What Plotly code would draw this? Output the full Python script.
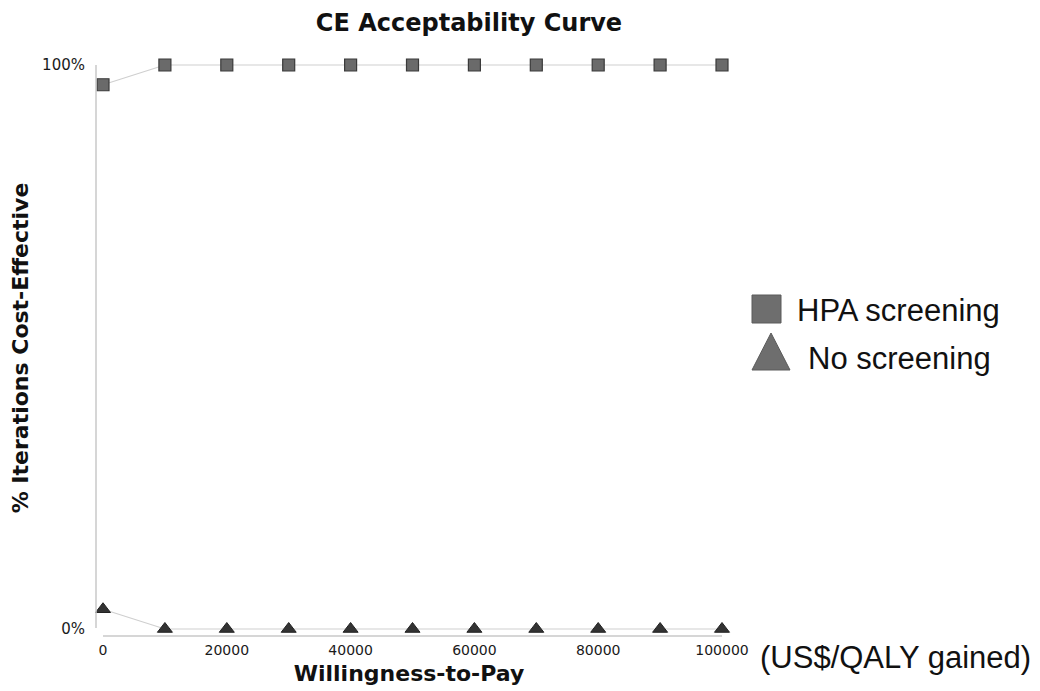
import plotly.graph_objects as go

wtp = [0, 10000, 20000, 30000, 40000, 50000, 60000, 70000, 80000, 90000, 100000]
hpa_screening = [96.5, 100, 100, 100, 100, 100, 100, 100, 100, 100, 100]
no_screening = [3.5, 0, 0, 0, 0, 0, 0, 0, 0, 0, 0]
x_ticks = [0, 20000, 40000, 60000, 80000, 100000]
x_tick_labels = ["0", "20000", "40000", "60000", "80000", "100000"]
y_ticks = [0, 100]
y_tick_labels = ["0%", "100%"]

# page body has an 8px margin; work in screenshot pixels and subtract it
OFF = 8
W, H = 1040 - OFF, 691 - OFF
L, R, T, B = 96 - OFF, 722 - OFF, 60 - OFF, 636 - OFF

def px(x):
    return (x - OFF - L) / (R - L)

def py(y):
    return (B - (y - OFF)) / (B - T)

fig = go.Figure()
fig.add_trace(go.Scatter(
    x=wtp, y=hpa_screening, mode="lines+markers", name="HPA screening",
    line=dict(color="#cfcfcf", width=1.2),
    marker=dict(symbol="square", size=12, color="#6a6a6a", line=dict(color="#3a3a3a", width=1.2)),
    cliponaxis=False,
))
fig.add_trace(go.Scatter(
    x=wtp, y=no_screening, mode="lines+markers", name="No screening",
    line=dict(color="#cfcfcf", width=1.2),
    marker=dict(symbol="triangle-up", size=13, color="#333333", line=dict(color="#222222", width=1)),
    cliponaxis=False,
))

shapes = [
    dict(type="line", xref="paper", yref="paper", x0=0, x1=0, y0=py(628), y1=py(65),
         line=dict(color="#c8c8c8", width=1.5)),
    dict(type="line", xref="x", yref="paper", x0=0, x1=100000, y0=0, y1=0,
         line=dict(color="#c8c8c8", width=1.5)),
    dict(type="rect", xref="paper", yref="paper", x0=px(752), x1=px(781), y0=py(323), y1=py(295),
         fillcolor="#6e6e6e", line=dict(color="#5a5a5a", width=1)),
    dict(type="path", xref="paper", yref="paper",
         path=f"M {px(752)} {py(370)} L {px(790)} {py(370)} L {px(771)} {py(333)} Z",
         fillcolor="#6e6e6e", line=dict(color="#5a5a5a", width=1)),
]

legend_font = dict(family="Liberation Sans, Arial", size=31, color="#111111")
annotations = [
    dict(text="HPA screening", xref="paper", yref="paper", x=px(795), y=py(310),
         xanchor="left", yanchor="middle", showarrow=False, font=legend_font),
    dict(text="No screening", xref="paper", yref="paper", x=px(806), y=py(358),
         xanchor="left", yanchor="middle", showarrow=False, font=legend_font),
    dict(text="(US$/QALY gained)", xref="paper", yref="paper", x=px(758), y=py(657),
         xanchor="left", yanchor="middle", showarrow=False, font=legend_font),
]

fig.update_layout(
    width=W, height=H,
    margin=dict(l=L, r=W - R, t=T, b=H - B, autoexpand=False),
    paper_bgcolor="white", plot_bgcolor="white",
    showlegend=False,
    title=dict(text="<b>CE Acceptability Curve</b>", x=px(469), xref="paper", y=1 - (23 - OFF) / H,
               xanchor="center", yanchor="middle",
               font=dict(family="DejaVu Sans", size=24, color="#111111")),
    xaxis=dict(range=[-1131, 100000], tickvals=x_ticks, ticktext=x_tick_labels,
               showgrid=False, zeroline=False, automargin=False,
               showline=False, ticks="", ticklabelstandoff=4,
               tickfont=dict(family="DejaVu Sans", size=14, color="#1a1a1a"),
               title=dict(text="<b>Willingness-to-Pay</b>", standoff=8,
                          font=dict(family="DejaVu Sans", size=22, color="#111111"))),
    yaxis=dict(range=[-1.241, 100.887], tickvals=y_ticks, ticktext=y_tick_labels,
               showgrid=False, zeroline=False, showline=False, ticks="", automargin=False,
               ticklabelstandoff=10,
               tickfont=dict(family="DejaVu Sans", size=15, color="#1a1a1a"),
               title=dict(text="<b>% Iterations Cost-Effective</b>", standoff=8,
                          font=dict(family="DejaVu Sans", size=22, color="#111111"))),
    shapes=shapes,
    annotations=annotations,
)

fig.write_html("out.html")
